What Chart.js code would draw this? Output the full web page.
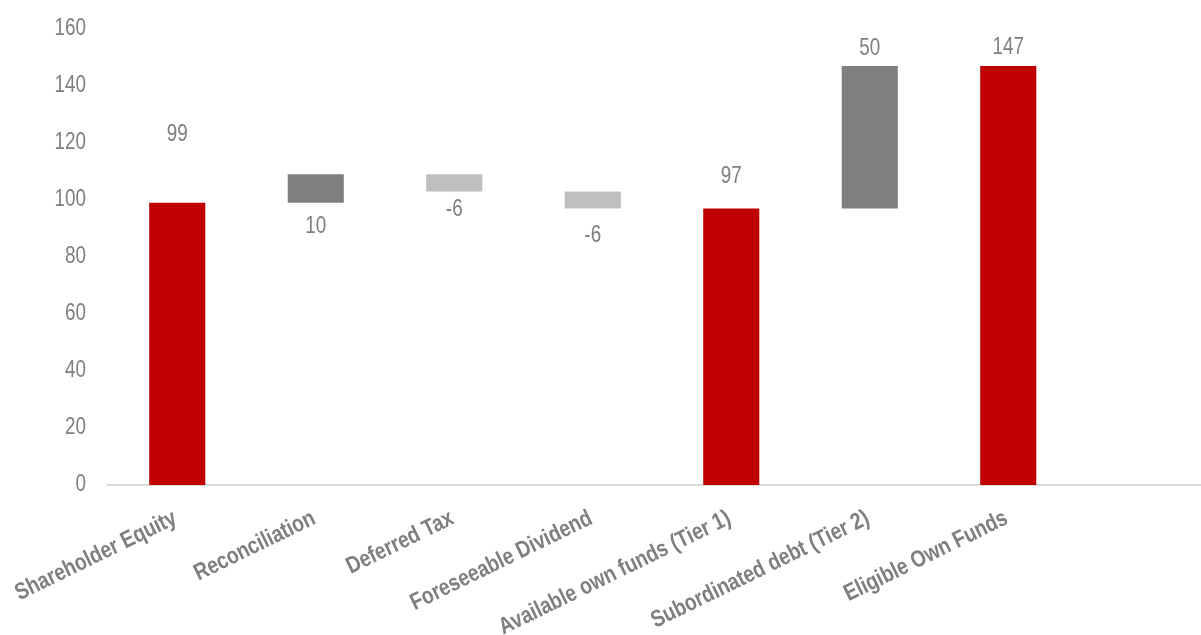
<!DOCTYPE html>
<html>
<head>
<meta charset="utf-8">
<title>Own funds bridge</title>
<script src="https://cdn.jsdelivr.net/npm/chart.js@4.4.1/dist/chart.umd.min.js"></script>
<style>
  html, body { margin: 0; padding: 0; background: #fff; overflow: hidden; }
  #wrap { width: 1216px; height: 635px; }
</style>
</head>
<body>
<div id="wrap"><canvas id="myChart" width="1216" height="635"></canvas></div>
<script>
// bridge steps, last slot left empty
const categories = [
  'Shareholder Equity',
  'Reconciliation',
  'Deferred Tax',
  'Foreseeable Dividend',
  'Available own funds (Tier 1)',
  'Subordinated debt (Tier 2)',
  'Eligible Own Funds',
  ''
];
const values = [99, 10, -6, -6, 97, 50, 147];
const isTotal = [true, false, false, false, true, false, true];
const yTicks = [0, 20, 40, 60, 80, 100, 120, 140, 160];

const RED = '#C00000';
const DARK = '#7F7F7F';
const LIGHT = '#BFBFBF';
const TEXT = '#7F7F7F';
const FONT = '"Liberation Sans", Arial, sans-serif';
const SQUEEZE = 0.82; // no narrow face installed, so condense by hand

// floating [start, end] ranges for the waterfall
const ranges = [];
const colors = [];
let running = 0;
values.forEach((v, i) => {
  if (isTotal[i]) {
    ranges.push([0, v]);
    running = v;
    colors.push(RED);
  } else {
    ranges.push([running, running + v]);
    running += v;
    colors.push(v >= 0 ? DARK : LIGHT);
  }
});

// where each value label sits relative to its bar (side, px from edge)
const labelPlacement = [
  ['above', 68], ['below', 24], ['below', 18], ['below', 27],
  ['above', 32], ['above', 17], ['above', 18]
];

function narrowText(ctx, text, x, y, opts) {
  ctx.save();
  ctx.translate(x, y);
  if (opts.angle) ctx.rotate(opts.angle);
  ctx.scale(SQUEEZE, 1);
  ctx.font = (opts.weight || 'normal') + ' ' + opts.size + 'px ' + FONT;
  ctx.fillStyle = TEXT;
  ctx.textAlign = opts.align || 'center';
  ctx.textBaseline = opts.baseline || 'middle';
  ctx.fillText(text, 0, 0);
  ctx.restore();
}

// axis labels and value labels, placed from the chart's own scales
const textLayer = {
  id: 'textLayer',
  afterDraw(chart) {
    const ctx = chart.ctx;
    const xs = chart.scales.x;
    const ys = chart.scales.y;
    const area = chart.chartArea;

    yTicks.forEach(v => {
      narrowText(ctx, String(v), area.left - 22, ys.getPixelForValue(v), { size: 23, align: 'right' });
    });

    categories.forEach((c, i) => {
      if (!c) return;
      narrowText(ctx, c, xs.getPixelForTick(i) + 1, area.bottom + 38, {
        size: 23.5, weight: 'bold', align: 'right', baseline: 'alphabetic', angle: -26 * Math.PI / 180
      });
    });

    const meta = chart.getDatasetMeta(0);
    meta.data.forEach((bar, i) => {
      if (i >= values.length) return;
      const top = Math.min(bar.y, bar.base);
      const bottom = Math.max(bar.y, bar.base);
      const [side, off] = labelPlacement[i];
      const y = side === 'above' ? top - off : bottom + off;
      narrowText(ctx, String(values[i]), bar.x, y, { size: 23 });
    });
  }
};

const ctx = document.getElementById('myChart').getContext('2d');
new Chart(ctx, {
  type: 'bar',
  data: {
    labels: categories,
    datasets: [{
      data: ranges,
      backgroundColor: colors,
      borderWidth: 0,
      categoryPercentage: 1,
      barPercentage: 0.405
    }]
  },
  options: {
    responsive: false,
    animation: false,
    layout: { padding: { top: 29, right: 0, left: 0, bottom: 0 } },
    plugins: {
      legend: { display: false },
      tooltip: { enabled: false }
    },
    scales: {
      x: {
        grid: { display: false, drawTicks: false },
        border: { display: true, color: '#D9D9D9', width: 2 },
        ticks: { display: false },
        afterFit(scale) {
          scale.height = 150;
          scale.paddingLeft = 0;
          scale.paddingRight = 0;
        }
      },
      y: {
        min: 0,
        max: 160,
        grid: { display: false, drawTicks: false },
        border: { display: false },
        ticks: { display: false, stepSize: 20 },
        afterFit(scale) {
          scale.width = 108;
          scale.paddingTop = 0;
          scale.paddingBottom = 0;
        }
      }
    }
  },
  plugins: [textLayer]
});
</script>
</body>
</html>
